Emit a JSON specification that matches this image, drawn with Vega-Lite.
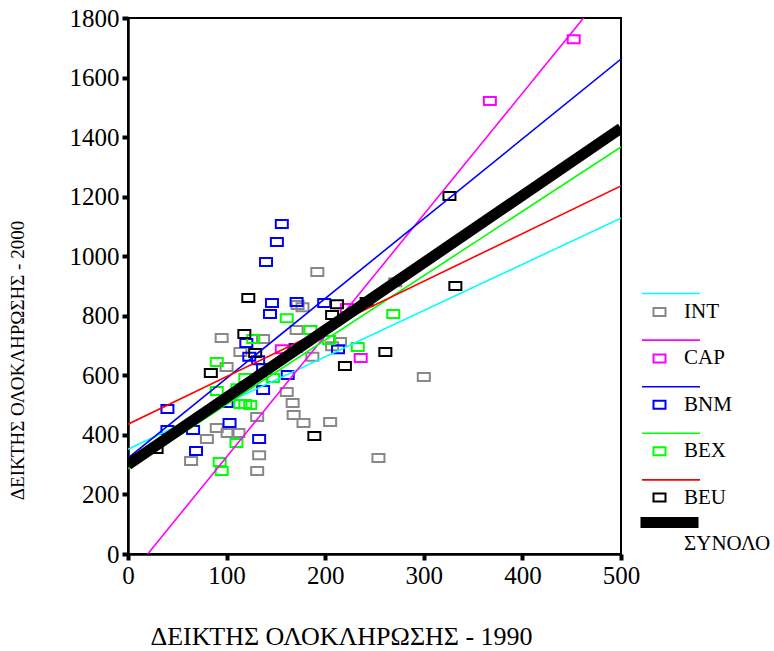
{
  "$schema": "https://vega.github.io/schema/vega-lite/v6.json",
  "width": 493,
  "height": 536,
  "autosize": {"type": "none"},
  "padding": {"left": 128, "top": 18, "right": 153, "bottom": 97},
  "background": "white",
  "config": {
    "view": {"stroke": "black", "strokeWidth": 2},
    "axis": {
      "domainColor": "black", "domainWidth": 2.5,
      "tickColor": "black", "tickWidth": 4, "tickSize": 6,
      "grid": false,
      "labelFont": "Liberation Serif", "labelFontSize": 25, "labelColor": "black", "labelPadding": 3, "labelOverlap": false, "labelFlush": false,
      "titleFont": "Liberation Serif", "titleFontWeight": "normal", "titleColor": "black"
    },
    "legend": {"labelFont": "Liberation Serif", "labelFontSize": 21, "labelColor": "black", "padding": 0}
  },
  "datasets": {
    "points": [
      {"group": "INT", "x1990": 192, "x2000": 947},
      {"group": "INT", "x1990": 271, "x2000": 913},
      {"group": "INT", "x1990": 177, "x2000": 829},
      {"group": "INT", "x1990": 172, "x2000": 836},
      {"group": "INT", "x1990": 95, "x2000": 725},
      {"group": "INT", "x1990": 137, "x2000": 722},
      {"group": "INT", "x1990": 171, "x2000": 752},
      {"group": "INT", "x1990": 114, "x2000": 678},
      {"group": "INT", "x1990": 100, "x2000": 628},
      {"group": "INT", "x1990": 215, "x2000": 712},
      {"group": "INT", "x1990": 207, "x2000": 698},
      {"group": "INT", "x1990": 187, "x2000": 662},
      {"group": "INT", "x1990": 161, "x2000": 544},
      {"group": "INT", "x1990": 167, "x2000": 507},
      {"group": "INT", "x1990": 168, "x2000": 467},
      {"group": "INT", "x1990": 178, "x2000": 440},
      {"group": "INT", "x1990": 205, "x2000": 443},
      {"group": "INT", "x1990": 300, "x2000": 594},
      {"group": "INT", "x1990": 254, "x2000": 322},
      {"group": "INT", "x1990": 133, "x2000": 332},
      {"group": "INT", "x1990": 131, "x2000": 279},
      {"group": "INT", "x1990": 64, "x2000": 312},
      {"group": "INT", "x1990": 80, "x2000": 386},
      {"group": "INT", "x1990": 90, "x2000": 423},
      {"group": "INT", "x1990": 112, "x2000": 406},
      {"group": "INT", "x1990": 131, "x2000": 460},
      {"group": "INT", "x1990": 101, "x2000": 406},
      {"group": "CAP", "x1990": 452, "x2000": 1729},
      {"group": "CAP", "x1990": 367, "x2000": 1521},
      {"group": "CAP", "x1990": 236, "x2000": 658},
      {"group": "CAP", "x1990": 156, "x2000": 688},
      {"group": "CAP", "x1990": 222, "x2000": 826},
      {"group": "BNM", "x1990": 156, "x2000": 1108},
      {"group": "BNM", "x1990": 151, "x2000": 1048},
      {"group": "BNM", "x1990": 140, "x2000": 981},
      {"group": "BNM", "x1990": 146, "x2000": 843},
      {"group": "BNM", "x1990": 144, "x2000": 806},
      {"group": "BNM", "x1990": 171, "x2000": 846},
      {"group": "BNM", "x1990": 199, "x2000": 843},
      {"group": "BNM", "x1990": 120, "x2000": 709},
      {"group": "BNM", "x1990": 123, "x2000": 662},
      {"group": "BNM", "x1990": 132, "x2000": 651},
      {"group": "BNM", "x1990": 137, "x2000": 625},
      {"group": "BNM", "x1990": 162, "x2000": 601},
      {"group": "BNM", "x1990": 213, "x2000": 688},
      {"group": "BNM", "x1990": 170, "x2000": 692},
      {"group": "BNM", "x1990": 137, "x2000": 551},
      {"group": "BNM", "x1990": 40, "x2000": 487},
      {"group": "BNM", "x1990": 40, "x2000": 416},
      {"group": "BNM", "x1990": 66, "x2000": 416},
      {"group": "BNM", "x1990": 100, "x2000": 507},
      {"group": "BNM", "x1990": 103, "x2000": 440},
      {"group": "BNM", "x1990": 133, "x2000": 386},
      {"group": "BNM", "x1990": 69, "x2000": 346},
      {"group": "BEX", "x1990": 90, "x2000": 645},
      {"group": "BEX", "x1990": 90, "x2000": 547},
      {"group": "BEX", "x1990": 93, "x2000": 309},
      {"group": "BEX", "x1990": 95, "x2000": 279},
      {"group": "BEX", "x1990": 110, "x2000": 373},
      {"group": "BEX", "x1990": 114, "x2000": 504},
      {"group": "BEX", "x1990": 119, "x2000": 504},
      {"group": "BEX", "x1990": 124, "x2000": 500},
      {"group": "BEX", "x1990": 111, "x2000": 557},
      {"group": "BEX", "x1990": 119, "x2000": 591},
      {"group": "BEX", "x1990": 127, "x2000": 722},
      {"group": "BEX", "x1990": 147, "x2000": 591},
      {"group": "BEX", "x1990": 161, "x2000": 792},
      {"group": "BEX", "x1990": 185, "x2000": 752},
      {"group": "BEX", "x1990": 204, "x2000": 719},
      {"group": "BEX", "x1990": 233, "x2000": 695},
      {"group": "BEX", "x1990": 269, "x2000": 806},
      {"group": "BEU", "x1990": 326, "x2000": 1202},
      {"group": "BEU", "x1990": 332, "x2000": 900},
      {"group": "BEU", "x1990": 122, "x2000": 860},
      {"group": "BEU", "x1990": 118, "x2000": 739},
      {"group": "BEU", "x1990": 129, "x2000": 675},
      {"group": "BEU", "x1990": 84, "x2000": 608},
      {"group": "BEU", "x1990": 212, "x2000": 839},
      {"group": "BEU", "x1990": 207, "x2000": 803},
      {"group": "BEU", "x1990": 242, "x2000": 846},
      {"group": "BEU", "x1990": 261, "x2000": 678},
      {"group": "BEU", "x1990": 220, "x2000": 631},
      {"group": "BEU", "x1990": 189, "x2000": 396},
      {"group": "BEU", "x1990": 29, "x2000": 353}
    ],
    "fits": [
      {"fit": "INT", "x1990": 0, "x2000": 352},
      {"fit": "INT", "x1990": 500, "x2000": 1128},
      {"fit": "CAP", "x1990": 20, "x2000": 0},
      {"fit": "CAP", "x1990": 462, "x2000": 1800},
      {"fit": "BNM", "x1990": 0, "x2000": 322},
      {"fit": "BNM", "x1990": 500, "x2000": 1662},
      {"fit": "BEX", "x1990": 0, "x2000": 286},
      {"fit": "BEX", "x1990": 500, "x2000": 1367},
      {"fit": "BEU", "x1990": 0, "x2000": 436},
      {"fit": "BEU", "x1990": 500, "x2000": 1236},
      {"fit": "ΣΥΝΟΛΟ", "x1990": 0, "x2000": 300},
      {"fit": "ΣΥΝΟΛΟ", "x1990": 500, "x2000": 1430}
    ]
  },
  "encoding": {
    "x": {
      "field": "x1990", "type": "quantitative",
      "scale": {"domain": [0, 500], "nice": false, "zero": false},
      "axis": {
        "values": [0, 100, 200, 300, 400, 500], "format": "d",
        "title": "ΔΕΙΚΤΗΣ ΟΛΟΚΛΗΡΩΣΗΣ - 1990",
        "titleFontSize": 26, "titleX": 213, "titleY": 82,
        "titleAlign": "center", "titleBaseline": "middle"
      }
    },
    "y": {
      "field": "x2000", "type": "quantitative",
      "scale": {"domain": [0, 1800], "nice": false, "zero": false},
      "axis": {
        "values": [0, 200, 400, 600, 800, 1000, 1200, 1400, 1600, 1800], "format": "d",
        "title": "ΔΕΙΚΤΗΣ ΟΛΟΚΛΗΡΩΣΗΣ - 2000",
        "titleFontSize": 19, "titleX": -111, "titleY": 342, "titleAngle": 270,
        "titleAlign": "center", "titleBaseline": "middle"
      }
    }
  },
  "layer": [
    {
      "data": {"name": "points"},
      "mark": {"type": "point", "shape": "M-1.5,-1H1.5V1H-1.5Z", "filled": false, "size": 64, "strokeWidth": 2, "opacity": 1},
      "encoding": {
        "color": {
          "field": "group", "type": "nominal",
          "scale": {"domain": ["INT", "CAP", "BNM", "BEX", "BEU", "ΣΥΝΟΛΟ"], "range": ["#888888", "#ff00ff", "#0000ff", "#00ff00", "#000000", "transparent"]},
          "legend": {
            "orient": "none", "legendX": 521, "legendY": 283.5, "title": null,
            "symbolType": "M-1.5,-1H1.5V1H-1.5Z", "symbolSize": 64, "symbolStrokeWidth": 2,
            "labelOffset": 14, "rowPadding": 24.4, "padding": 0
          }
        }
      }
    },
    {
      "data": {"name": "fits"},
      "transform": [{"filter": "datum.fit !== 'ΣΥΝΟΛΟ'"}],
      "mark": {"type": "line", "clip": true, "strokeWidth": 1.6},
      "encoding": {
        "stroke": {
          "field": "fit", "type": "nominal",
          "scale": {"domain": ["INT", "CAP", "BNM", "BEX", "BEU"], "range": ["#00ffff", "#ff00ff", "#0000ff", "#00ff00", "#ff0000"]},
          "legend": {
            "orient": "none", "legendX": 527.5, "legendY": 260, "title": null,
            "symbolType": "M-2,0H2", "symbolSize": 841, "symbolStrokeWidth": 1.6,
            "labelExpr": "''", "labelOffset": 0, "rowPadding": 20.6, "padding": 0
          }
        }
      }
    },
    {
      "data": {"name": "fits"},
      "transform": [{"filter": "datum.fit === 'ΣΥΝΟΛΟ'"}],
      "mark": {"type": "line", "clip": true, "color": "black"},
      "encoding": {
        "strokeWidth": {
          "field": "fit", "type": "ordinal",
          "scale": {"domain": ["ΣΥΝΟΛΟ"], "range": [11, 11]},
          "legend": {
            "orient": "none", "legendX": 521.5, "legendY": 484.5, "title": null,
            "symbolType": "M-2,0H2", "symbolSize": 841, "symbolStrokeColor": "black",
            "labelExpr": "''", "padding": 0
          }
        }
      }
    }
  ]
}
